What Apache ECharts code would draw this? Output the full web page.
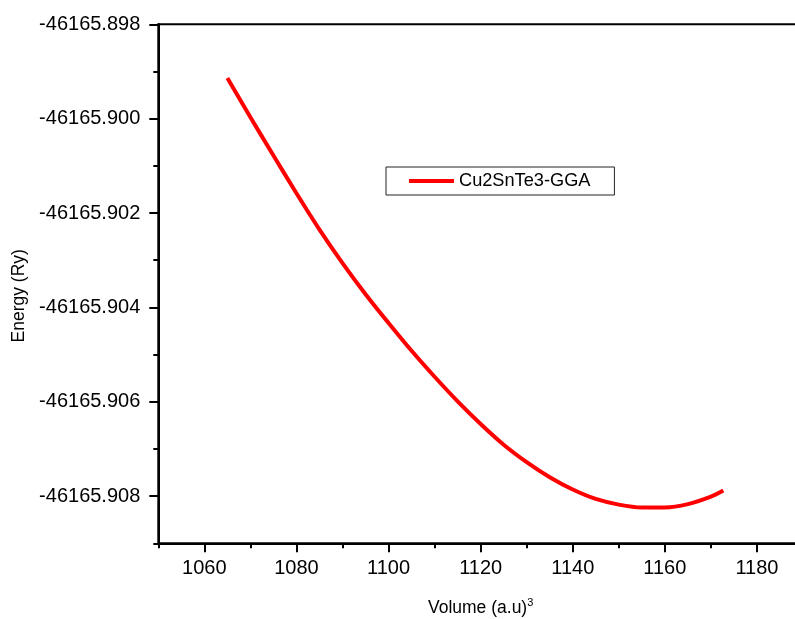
<!DOCTYPE html>
<html>
<head>
<meta charset="utf-8">
<script src="https://cdn.jsdelivr.net/npm/echarts@6/dist/echarts.min.js"></script>
<style>
html,body{margin:0;padding:0;background:#fff;}
#chart{width:795px;height:619px;}
</style>
</head>
<body>
<div id="chart"></div>
<script>
// Data
const volume = [1065, 1070, 1075, 1080, 1085, 1090, 1095, 1100, 1105, 1110, 1115, 1120, 1125,
                1130, 1135, 1140, 1145, 1150, 1155, 1160, 1165, 1170, 1172.7];
const energy = [-46165.89914, -46165.89997, -46165.90078, -46165.90158, -46165.90235, -46165.90306,
                -46165.90372, -46165.90433, -46165.90492, -46165.90547, -46165.90599, -46165.90647,
                -46165.90691, -46165.90728, -46165.90760, -46165.90786, -46165.90806, -46165.90818,
                -46165.90824, -46165.90824, -46165.90817, -46165.90801, -46165.90788];
const seriesName = 'Cu2SnTe3-GGA';
const xRange = [1050, 1190];
const yRange = [-46165.909, -46165.898];

const FONT = 'Arial, "Liberation Sans", sans-serif';
const chart = echarts.init(document.getElementById('chart'));
const points = volume.map((v, i) => [v, energy[i]]);

chart.setOption({
  animation: false,
  backgroundColor: '#fff',
  grid: {
    left: 158.3, top: 24.3, right: -8, bottom: 75.7,
    outerBoundsMode: 'none', containLabel: false,
    show: true, borderColor: '#000', borderWidth: 2, backgroundColor: 'transparent'
  },
  legend: {
    left: 386, top: 167,
    padding: [5, 24, 5, 23],
    borderColor: '#222', borderWidth: 1,
    icon: 'rect', itemWidth: 45, itemHeight: 4,
    textStyle: { fontFamily: FONT, fontSize: 18.2, color: '#000' },
    data: [seriesName]
  },
  xAxis: [{
    type: 'value', min: xRange[0], max: xRange[1], splitNumber: 7, position: 'bottom',
    name: 'Volume (a.u){sup|3}', nameLocation: 'middle', nameGap: 54,
    nameTextStyle: { fontFamily: FONT, fontSize: 17.5, color: '#000', lineHeight: 22,
      rich: { sup: { fontFamily: FONT, fontSize: 11, color: '#000', verticalAlign: 'top', lineHeight: 22 } } },
    axisLine: { show: true, lineStyle: { color: '#000', width: 2 } },
    axisTick: { show: true, inside: false, length: 9, lineStyle: { color: '#000', width: 2 } },
    axisLabel: { showMinLabel: false, showMaxLabel: false, margin: 15, fontFamily: FONT, fontSize: 20, color: '#000',
      formatter: v => String(Math.round(v)) },
    splitLine: { show: false }
  }, {
    type: 'value', min: xRange[0], max: xRange[1], interval: 10, position: 'bottom',
    axisLine: { show: false },
    axisTick: { show: true, inside: false, length: 5, lineStyle: { color: '#000', width: 2 } },
    axisLabel: { show: false },
    splitLine: { show: false }
  }],
  yAxis: [{
    type: 'value', min: yRange[0], max: yRange[1], splitNumber: 5, position: 'left',
    name: 'Energy (Ry)', nameLocation: 'middle', nameGap: 125, nameRotate: 90,
    nameTextStyle: { fontFamily: FONT, fontSize: 17.5, color: '#000', padding: [0, 24, 0, 0] },
    axisLine: { show: true, lineStyle: { color: '#000', width: 2 } },
    axisTick: { show: true, inside: false, length: 9, lineStyle: { color: '#000', width: 2 } },
    axisLabel: { showMinLabel: false, margin: 18, fontFamily: FONT, fontSize: 20, color: '#000',
      formatter: v => v.toFixed(3) },
    splitLine: { show: false }
  }, {
    type: 'value', min: yRange[0], max: yRange[1], interval: 0.001, position: 'left',
    axisLine: { show: false },
    axisTick: { show: true, inside: false, length: 5, lineStyle: { color: '#000', width: 2 } },
    axisLabel: { show: false },
    splitLine: { show: false }
  }],
  series: [{
    name: seriesName, type: 'line', data: points, smooth: 0.3, showSymbol: false,
    xAxisIndex: 0, yAxisIndex: 0,
    lineStyle: { color: '#ff0000', width: 4 }, itemStyle: { color: '#ff0000' }
  }]
});
</script>
</body>
</html>
